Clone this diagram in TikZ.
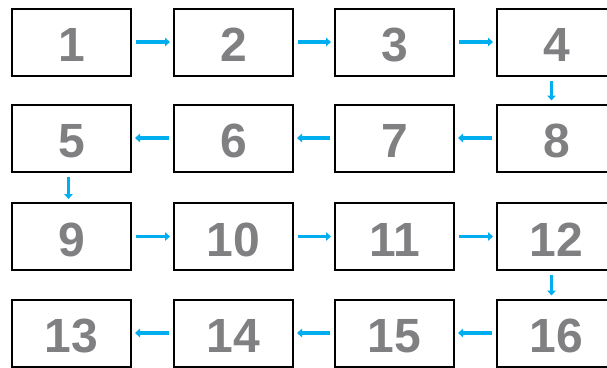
\documentclass[tikz,border=0pt]{standalone}
\usepackage{fontspec}
\setmainfont{Liberation Sans}
\usetikzlibrary{arrows.meta,positioning}

\definecolor{flowcyan}{RGB}{0,174,239}
\definecolor{digitgray}{RGB}{128,128,131}

\begin{document}
\begin{tikzpicture}[
			x=1pt,y=-1pt,
			>=Stealth,
			cell/.style={
				draw=black,
				line width=2pt,
				fill=white,
				minimum width=119pt,
				minimum height=67pt,
				inner sep=0pt,
				text height=39pt,
				text depth=0pt,
				text=digitgray,
				font=\fontsize{48}{48}\selectfont\bfseries
			},
			arrow/.style={
				-{Triangle[length=5pt,width=8.5pt]},
				draw=flowcyan,
				line width=3.6pt,
				shorten >=3pt,
				shorten <=4pt
			}
			]

			\useasboundingbox (0,0) rectangle (607,367);

			% Zeile 1
			\node[cell] (b1) at (71.5,42) {1};
			\node[cell] (b2) at (233.5,42) {2};
			\node[cell] (b3) at (394.5,42) {3};
			\node[cell] (b4) at (556.5,42) {4};

			% Zeile 2
			\node[cell] (b5) at (71.5,138) {5};
			\node[cell] (b6) at (233.5,138) {6};
			\node[cell] (b7) at (394.5,138) {7};
			\node[cell] (b8) at (556.5,138) {8};

			% Zeile 3
			\node[cell] (b9) at (71.5,236.5) {9};
			\node[cell] (b10) at (233.5,236.5) {10};
			\node[cell] (b11) at (394.5,236.5) {11};
			\node[cell] (b12) at (556.5,236.5) {12};

			% Zeile 4
			\node[cell] (b13) at (71.5,333) {13};
			\node[cell] (b14) at (233.5,333) {14};
			\node[cell] (b15) at (394.5,333) {15};
			\node[cell] (b16) at (556.5,333) {16};

			% Pfeile
			\draw[arrow] (b1) -- (b2);
			\draw[arrow] (b2) -- (b3);
			\draw[arrow] (b3) -- (b4);
			\draw[arrow] ([xshift=-5pt]b4.south) -- ([xshift=-5pt]b8.north);
			\draw[arrow] (b8) -- (b7);
			\draw[arrow] (b7) -- (b6);
			\draw[arrow] (b6) -- (b5);
			\draw[arrow] ([xshift=-3pt]b5.south) -- ([xshift=-3pt]b9.north);
			\draw[arrow] (b9) -- (b10);
			\draw[arrow] (b10) -- (b11);
			\draw[arrow] (b11) -- (b12);
			\draw[arrow] ([xshift=-5pt]b12.south) -- ([xshift=-5pt]b16.north);
			\draw[arrow] (b16) -- (b15);
			\draw[arrow] (b15) -- (b14);
			\draw[arrow] (b14) -- (b13);

		\end{tikzpicture}
\end{document}
